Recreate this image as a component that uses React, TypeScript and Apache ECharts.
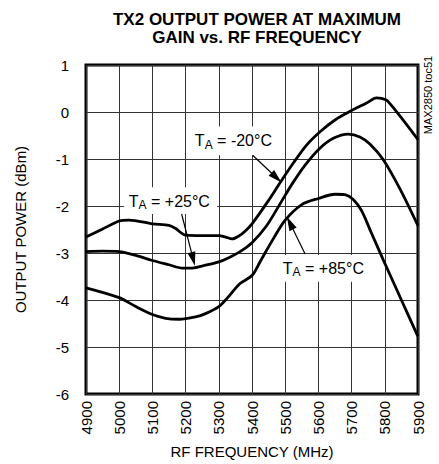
import React, { useEffect, useRef } from "react";
import * as echarts from "echarts";

const FONT = "'Liberation Sans', Arial, sans-serif";

// T_A = -20°C
const freqM20 = [4900, 4950, 5000, 5030, 5100, 5150, 5170, 5200, 5250, 5300, 5320, 5340, 5360, 5380, 5400, 5450, 5485, 5525, 5565, 5605, 5650, 5700, 5745, 5775, 5790, 5806, 5846, 5900];
const powM20 = [-2.66, -2.49, -2.32, -2.30, -2.38, -2.41, -2.48, -2.62, -2.63, -2.63, -2.66, -2.70, -2.64, -2.53, -2.38, -1.88, -1.50, -1.08, -0.70, -0.42, -0.17, 0.03, 0.19, 0.30, 0.29, 0.25, -0.09, -0.59];

// T_A = +25°C
const freqP25 = [4900, 4950, 5000, 5050, 5100, 5150, 5190, 5220, 5260, 5300, 5330, 5364, 5400, 5444, 5484, 5520, 5560, 5603, 5645, 5690, 5725, 5755, 5795, 5846, 5900];
const powP25 = [-2.97, -2.96, -2.97, -3.05, -3.16, -3.25, -3.32, -3.32, -3.26, -3.19, -3.10, -2.97, -2.78, -2.42, -1.96, -1.54, -1.13, -0.78, -0.56, -0.47, -0.53, -0.68, -1.01, -1.64, -2.42];

// T_A = +85°C
const freqP85 = [4900, 5000, 5050, 5100, 5140, 5180, 5230, 5260, 5300, 5324, 5364, 5400, 5424, 5464, 5500, 5550, 5600, 5650, 5680, 5705, 5730, 5760, 5795, 5850, 5900];
const powP85 = [-3.74, -3.95, -4.14, -4.31, -4.39, -4.41, -4.36, -4.29, -4.14, -3.97, -3.65, -3.48, -3.19, -2.70, -2.30, -1.97, -1.84, -1.75, -1.76, -1.86, -2.10, -2.58, -3.14, -4.00, -4.78];

// Annotation labels (data coordinates)
const labelTemps = ["-20°C", "+25°C", "+85°C"];
const labelCentres = [[5344, -0.61], [5151, -1.90], [5615, -3.32]];
const labelBoxes = [[5219, -0.31, 5469, -0.92], [5014, -1.60, 5295, -2.17], [5484, -3.04, 5749, -3.61]];
const arrowStarts = [[5402, -0.92], [5188, -2.17], [5560, -3.02]];
const arrowTips = [[5489, -1.50], [5228, -3.27], [5505, -2.23]];

const zip = (xs: number[], ys: number[]) => xs.map((x, i) => [x, ys[i]]);

export default function App() {
  const ref = useRef<HTMLDivElement>(null);
  useEffect(() => {
    if (!ref.current) return;
    const chart = echarts.init(ref.current, null, { renderer: "svg" });
    const lineSeries = (name: string, data: number[][]) => ({
      name,
      type: "line",
      data,
      showSymbol: false,
      smooth: 0.3,
      lineStyle: { color: "#000", width: 2.8 },
      z: 5,
    });
    chart.setOption({
      animation: false,
      backgroundColor: "#fff",
      title: {
        text: "TX2 OUTPUT POWER AT MAXIMUM\nGAIN vs. RF FREQUENCY",
        left: 252,
        top: 5,
        textAlign: "center",
        textStyle: { fontFamily: FONT, fontSize: 17, fontWeight: "bold", color: "#000", lineHeight: 18 },
      },
      grid: { left: 86, top: 65, right: 21, bottom: 68, show: true, borderColor: "#000", borderWidth: 3, backgroundColor: "transparent" },
      xAxis: {
        type: "value",
        min: 4900,
        max: 5900,
        interval: 100,
        name: "RF FREQUENCY (MHz)",
        nameLocation: "middle",
        nameGap: 50,
        nameTextStyle: { fontFamily: FONT, fontSize: 15, color: "#000" },
        axisLine: { show: false },
        axisTick: { show: false },
        axisLabel: { rotate: 90, margin: 7, fontFamily: FONT, fontSize: 15, color: "#000", formatter: (v: number) => String(v) },
        splitLine: { show: true, lineStyle: { color: "#333", width: 1 } },
      },
      yAxis: {
        type: "value",
        min: -6,
        max: 1,
        interval: 1,
        name: "OUTPUT POWER (dBm)",
        nameLocation: "middle",
        nameGap: 58,
        nameTextStyle: { fontFamily: FONT, fontSize: 15, color: "#000" },
        axisLine: { show: false },
        axisTick: { show: false },
        axisLabel: { margin: 17, fontFamily: FONT, fontSize: 15, color: "#000", formatter: (v: number) => String(v) },
        splitLine: { show: true, lineStyle: { color: "#333", width: 1 } },
      },
      series: [
        lineSeries("-20", zip(freqM20, powM20)),
        lineSeries("+25", zip(freqP25, powP25)),
        lineSeries("+85", zip(freqP85, powP85)),
      ],
    });

    const px = (p: number[]) => chart.convertToPixel({ gridIndex: 0 }, p) as number[];
    const graphics: any[] = [];
    labelTemps.forEach((t, i) => {
      const b = labelBoxes[i];
      const p0 = px([b[0], b[1]]);
      const p1 = px([b[2], b[3]]);
      graphics.push({
        type: "rect",
        shape: { x: Math.min(p0[0], p1[0]), y: Math.min(p0[1], p1[1]), width: Math.abs(p1[0] - p0[0]), height: Math.abs(p1[1] - p0[1]) },
        style: { fill: "#fff" },
        z: 3,
      });
      const c = px(labelCentres[i]);
      graphics.push({
        type: "text",
        x: c[0],
        y: c[1],
        z: 10,
        style: {
          text: "{n|T}{s|A}{n| = " + t + "}",
          align: "center",
          verticalAlign: "middle",
          textAlign: "center",
          textVerticalAlign: "middle",
          fill: "#000",
          rich: {
            n: { fontFamily: FONT, fontSize: 16, lineHeight: 18, color: "#000" },
            s: { fontFamily: FONT, fontSize: 12, lineHeight: 10, padding: [8, 0, 0, 0], color: "#000" },
          },
        },
      });
      const s = px(arrowStarts[i]);
      const tp = px(arrowTips[i]);
      const dx = tp[0] - s[0];
      const dy = tp[1] - s[1];
      const len = Math.sqrt(dx * dx + dy * dy);
      const ux = dx / len;
      const uy = dy / len;
      const L = 14;
      const W = 8;
      const bx = tp[0] - ux * L;
      const by = tp[1] - uy * L;
      graphics.push({
        type: "line",
        shape: { x1: s[0], y1: s[1], x2: bx + ux * 2, y2: by + uy * 2 },
        style: { stroke: "#000", lineWidth: 1.2 },
        z: 10,
      });
      graphics.push({
        type: "polygon",
        shape: {
          points: [
            [tp[0], tp[1]],
            [bx - uy * W / 2, by + ux * W / 2],
            [bx + uy * W / 2, by - ux * W / 2],
          ],
        },
        style: { fill: "#000" },
        z: 10,
      });
    });
    graphics.push({
      type: "text",
      x: 428,
      y: 95,
      rotation: Math.PI / 2,
      z: 10,
      style: {
        text: "MAX2850 toc51",
        align: "center",
        verticalAlign: "middle",
        textAlign: "center",
        textVerticalAlign: "middle",
        fontFamily: FONT,
        fontSize: 11,
        fill: "#000",
      },
    });
    chart.setOption({ graphic: graphics });
    return () => chart.dispose();
  }, []);
  return <div ref={ref} style={{ position: "absolute", left: 0, top: 0, width: 439, height: 464 }} />;
}
